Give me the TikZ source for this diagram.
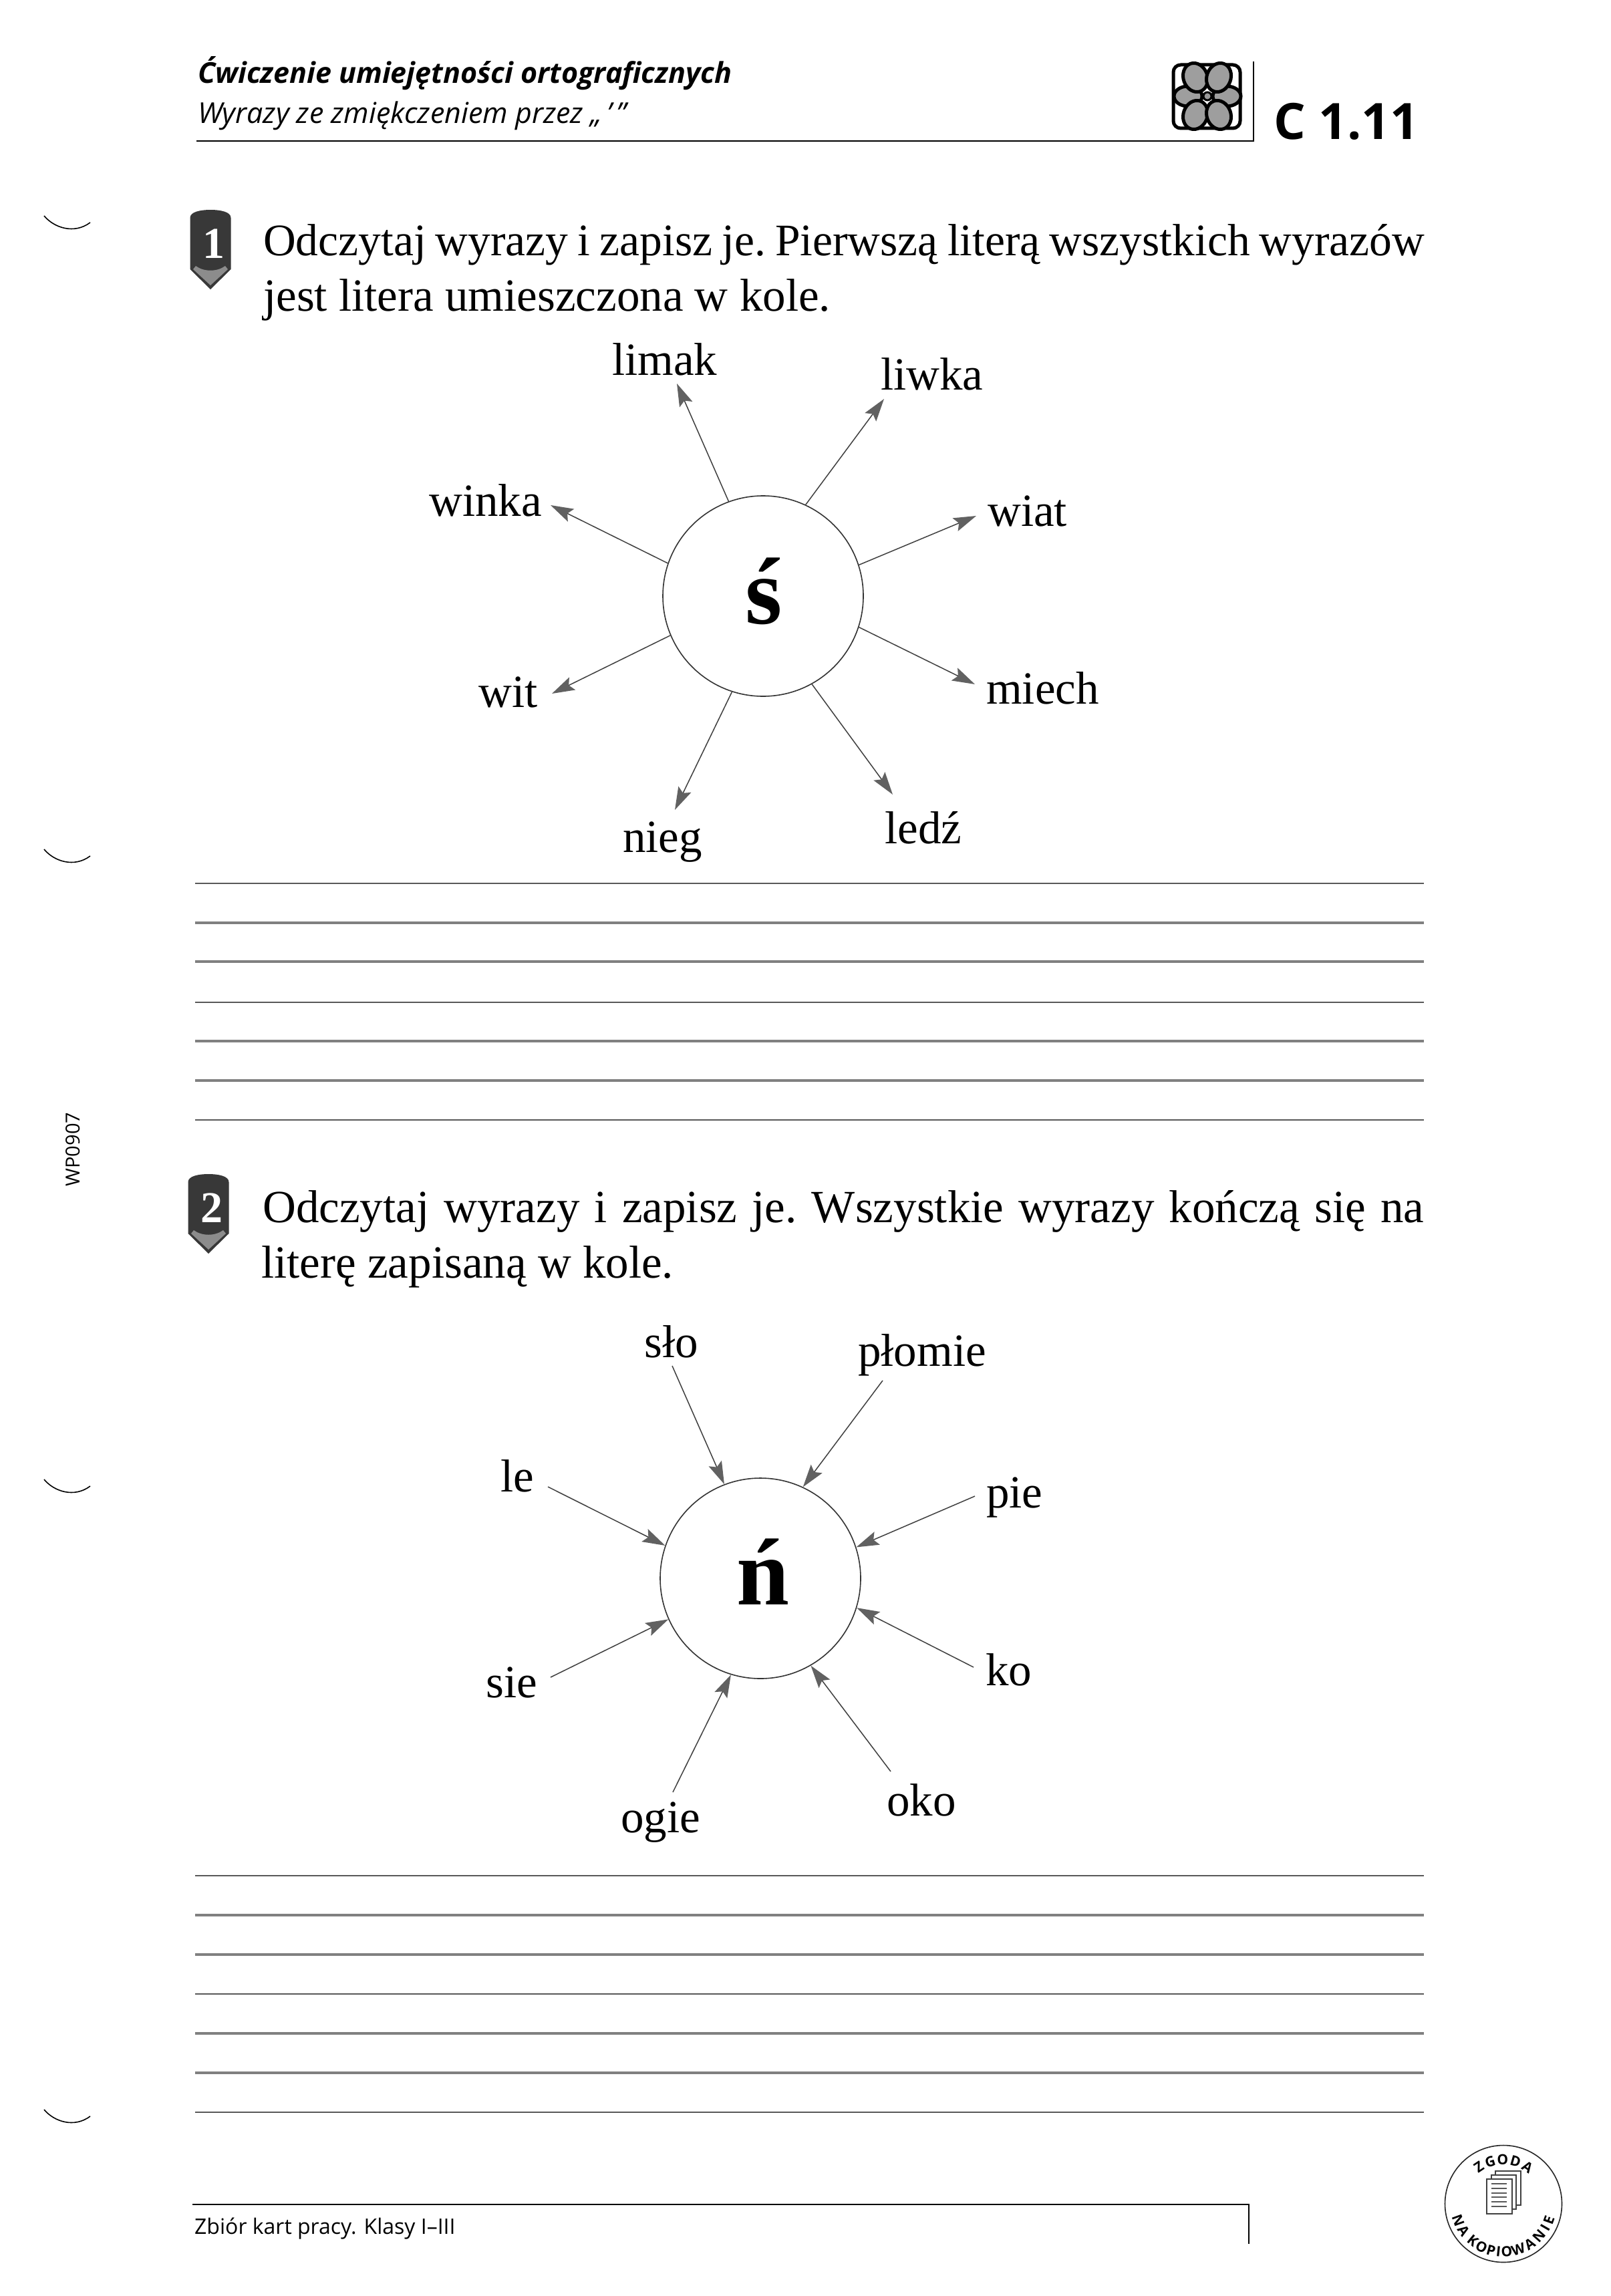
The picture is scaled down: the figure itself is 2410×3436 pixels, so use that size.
\documentclass[tikz,border=0pt]{standalone}
\usepackage{fontspec}
\setmainfont{Liberation Serif}
\setsansfont{Open Sans}
\usetikzlibrary{arrows.meta}
\tikzset{
  word/.style={anchor=base west,inner sep=0pt,font=\fontsize{69}{80}\selectfont},
  bigletter/.style={anchor=base,inner sep=0pt,font=\fontsize{142}{150}\selectfont\bfseries},
  ring/.style={circle,draw=black!80,line width=1.6pt,minimum size=300pt,inner sep=0pt},
  ray/.style={draw=black!75,line width=1.5pt,-{Stealth[length=34pt,width=21pt,inset=6pt,color=black!62]}},
  thinrule/.style={draw=black!65,line width=1.8pt},
  thickrule/.style={draw=black!50,line width=4.5pt},
  instr/.style={anchor=base west,inner sep=0pt,font=\fontsize{69}{75}\selectfont\frenchspacing},
  instrfit/.style={anchor=base west,inner sep=0pt,font=\fontsize{67.5}{75}\selectfont\frenchspacing},
  petal/.style={draw=black,line width=5pt,fill=black!38},
  tick/.style={draw=black,line width=1.6pt},
  stamplet/.style={inner sep=0pt,font=\sffamily\bfseries\fontsize{21}{23}\selectfont},
  page/.style={draw=black!75,line width=1.5pt,fill=white},
  pagebar/.style={draw=black!65,line width=1.4pt}
}
\newcommand{\pencilmark}[4]{%
  \begin{scope}[shift={(#1,#2)}]
    \fill[black!78] (-30.5,12) .. controls (-30.5,3) and (-15,0) .. (0,0) .. controls (15,0) and (30.5,3) .. (30.5,12) -- (30.5,89) -- (0,119) -- (-30.5,89) -- cycle;
    \fill[black!45] (-22,84) .. controls (-10,93) and (10,93) .. (22,84) -- (26,89) -- (0,113) -- (-26,89) -- cycle;
    \node[anchor=base,inner sep=0pt,text=white,font=\fontsize{66}{70}\selectfont\bfseries] (#4) at (5,72) {#3};
  \end{scope}}
\begin{document}
\begin{tikzpicture}[x=1pt,y=-1pt]
\useasboundingbox[fill=white] (0,0) rectangle (2410,3436);

% header
\node[anchor=base west,inner sep=0pt,font=\sffamily\bfseries\itshape\fontsize{43}{46}\selectfont] (title) at (296,125) {Ćwiczenie umiejętności ortograficznych};
\node[anchor=base west,inner sep=0pt,font=\sffamily\itshape\fontsize{43}{46}\selectfont] (subtitle) at (296,185) {Wyrazy ze zmiękczeniem przez „\hspace{7pt}’\hspace{7pt}”};
\coordinate (hl) at (294,211);
\coordinate (hr) at (1876,211);
\coordinate (ht) at (1876,92);
\draw[line width=2.4pt] (hl) -- (hr) -- (ht);
\node[anchor=base west,inner sep=0pt,font=\sffamily\bfseries\fontsize{75}{80}\selectfont] (code) at (1906,208) {C 1.11};

% flower
\draw[draw=black,line width=5pt,fill=white,rounded corners=11pt] (1756,97) rectangle (1856,192);
\foreach \px/\py/\rx/\ry/\rt in {1778/144/21/15/0,1836/144/21/15/0,1789/116/18/22/20,1824/116/18/22/-20,1789/172/18/22/-20,1824/172/18/22/20}{
  \draw[petal,rotate around={\rt:(\px,\py)}] (\px,\py) ellipse [x radius=\rx,y radius=\ry];
}
\draw[draw=black,line width=3pt,fill=black!40] (1807,144) circle (6);

% exercise 1
\pencilmark{315}{314}{1}{mark1}
\node[instrfit] (t11) at (394,382) {\makebox[1738pt][s]{Odczytaj wyrazy i zapisz je. Pierwszą literą wszystkich wyrazów}};
\node[instr] (t12) at (394,465) {jest litera umieszczona w kole.};

\node[ring] (c1) at (1142,892) {};
\node[bigletter] (L1) at (1143,933) {ś};
\foreach \nm/\ax/\ay/\ang in {
  a1/1013/574/110,
  a2/1323/597/65,
  a3/1461/772/18,
  a4/1459/1024/-18,
  a5/1336/1189/-61,
  a6/1010/1212/-108,
  a7/826/1038/-157,
  a8/824/756/161}{
  \coordinate (\nm) at (\ax,\ay);
  \draw[ray] (c1.\ang) -- (\nm);
}
\node[word] (w1) at (916,561) {limak};
\node[word] (w2) at (1318,583) {liwka};
\node[word] (w3) at (1478,787) {wiat};
\node[word] (w4) at (1476,1053) {miech};
\node[word] (w5) at (1324,1262) {ledź};
\node[word] (w6) at (932,1275) {nieg};
\node[word] (w7) at (716,1058) {wit};
\node[word] (w8) at (642,772) {winka};

\foreach \yy/\st in {1322/thinrule,1381/thickrule,1439/thickrule,1500/thinrule,1558/thickrule,1617/thickrule,1676/thinrule,
                     2807/thinrule,2866/thickrule,2925/thickrule,2984/thinrule,3043/thickrule,3102/thickrule,3161/thinrule}{
  \coordinate (rl) at (292,\yy);
  \coordinate (rr) at (2131,\yy);
  \draw[\st] (rl) -- (rr);
}

\node[anchor=base,rotate=90,inner sep=0pt,font=\sffamily\fontsize{29}{32}\selectfont] (wp) at (119,1720) {WP0907};

% exercise 2
\pencilmark{312}{1757}{2}{mark2}
\node[instr] (t21) at (393,1829) {\makebox[1738pt][s]{Odczytaj wyrazy i zapisz je. Wszystkie wyrazy kończą się na}};
\node[instr] (t22) at (391,1912) {literę zapisaną w kole.};

\node[ring] (c2) at (1138,2362) {};
\node[bigletter] (L2) at (1142,2401) {ń};
\foreach \nm/\ax/\ay/\ang in {
  b1/1006/2044/111.5,
  b2/1321/2066/65,
  b3/1459/2239/18,
  b4/1457/2495/-17.5,
  b5/1333/2651/-60,
  b6/1007/2682/-107.5,
  b7/824/2510/-156,
  b8/820/2225/161}{
  \coordinate (\nm) at (\ax,\ay);
  \draw[ray] (\nm) -- (c2.\ang);
}
\node[word] (v1) at (964,2031) {sło};
\node[word] (v2) at (1284,2044) {płomie};
\node[word] (v3) at (1476,2256) {pie};
\node[word] (v4) at (1475,2522) {ko};
\node[word] (v5) at (1327,2717) {oko};
\node[word] (v6) at (929,2742) {ogie};
\node[word] (v7) at (727,2540) {sie};
\node[word] (v8) at (749,2232) {le};

% footer
\coordinate (fl) at (288,3299);
\coordinate (fr) at (1869,3299);
\coordinate (fb) at (1869,3358);
\draw[line width=2.2pt] (fl) -- (fr) -- (fb);
\node[anchor=base west,inner sep=0pt,font=\sffamily\fontsize{32}{38}\selectfont] (foot) at (291,3343) {Zbiór kart pracy. Klasy I–III};

% stamp
\begin{scope}[shift={(2250,3298)},y=1pt]
  \node[circle,draw=black!85,line width=1.6pt,minimum size=175pt,inner sep=0pt] (stamp) at (0,0) {};
  \draw[page] (-12,49) rectangle (26,-2);
  \draw[page] (-18,43) rectangle (19,-8);
  \draw[page] (-25,37) rectangle (13,-15);
  \foreach \by in {30,23,16,10,3,-4}{
    \coordinate (ba) at (-18,\by);
    \coordinate (bb) at (5,\by);
    \draw[pagebar] (ba) -- (bb);
  }
  \foreach \ch/\an [count=\i] in {Z/124,G/107.5,O/91,D/74,A/57}{
    \node[stamplet,rotate=\an-90] (zg\i) at (\an:66pt) {\ch};
  }
  \foreach \ch/\an [count=\i] in {N/200,A/214,K/230.5,O/243,P/255,I/264,O/274,W/288,A/303,N/318.5,I/330,E/340.5}{
    \node[stamplet,rotate=\an+90] (nk\i) at (\an:72pt) {\ch};
  }
\end{scope}

% margin ticks
\foreach \ty in {323,1271,2214,3157}{
  \begin{scope}[shift={(66,\ty)}]
    \draw[tick] (0,0) .. controls (15,18) and (45,28) .. (69,10);
  \end{scope}
}
\end{tikzpicture}
\end{document}
